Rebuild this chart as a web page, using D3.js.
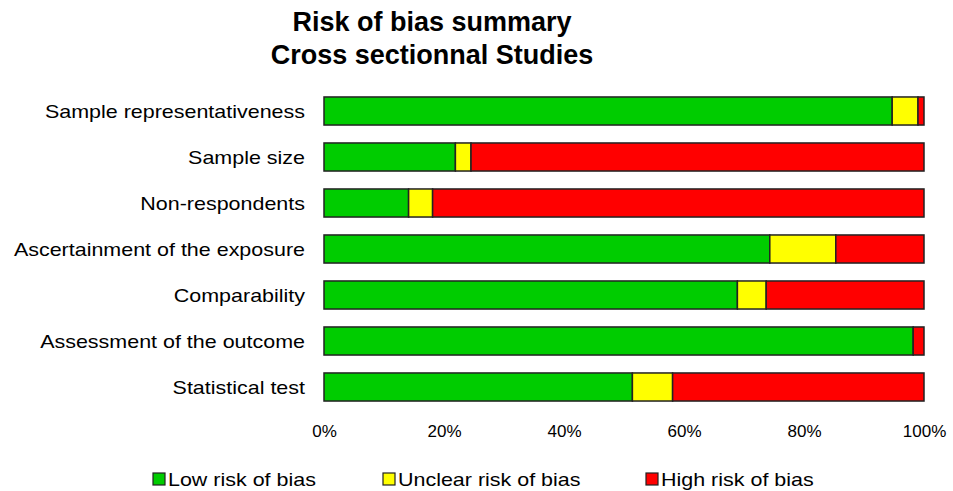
<!DOCTYPE html>
<html>
<head>
<meta charset="utf-8">
<script src="https://cdn.jsdelivr.net/npm/d3@7"></script>
<style>
  body { margin: 0; background: #fff; }
  text { font-family: "Liberation Sans", Arial, sans-serif; fill: #000; }
</style>
</head>
<body>
<div id="chart"></div>
<script>
// values (percent of studies)
const domains = [
  "Sample representativeness",
  "Sample size",
  "Non-respondents",
  "Ascertainment of the exposure",
  "Comparability",
  "Assessment of the outcome",
  "Statistical test"
];
const lowRisk     = [94.7, 21.9, 14.1, 74.3, 68.9, 98.2, 51.4];
const unclearRisk = [4.3, 2.6, 4.0, 11.0, 4.8, 0, 6.7];
const highRisk    = [1.0, 75.5, 81.9, 14.7, 26.3, 1.8, 41.9];
const tickValues  = [0, 20, 40, 60, 80, 100];
const seriesNames = ["Low risk of bias", "Unclear risk of bias", "High risk of bias"];
const seriesColors = ["#00cc00", "#ffff00", "#ff0000"];

const width = 953, height = 491;
const plotLeft = 324, plotRight = 924, plotTop = 88, plotBottom = 410;
const stretch = 1.13; // the original labels are a bit wider than Arial

const svg = d3.select('#chart').append('svg')
  .attr('width', width)
  .attr('height', height);

svg.append('text')
  .attr('x', 432).attr('y', 31)
  .attr('text-anchor', 'middle')
  .style('font-size', '27px').style('font-weight', 'bold')
  .text('Risk of bias summary');
svg.append('text')
  .attr('x', 432).attr('y', 64)
  .attr('text-anchor', 'middle')
  .style('font-size', '27px').style('font-weight', 'bold')
  .text('Cross sectionnal Studies');

const rows = domains.map((d, i) => ({
  domain: d,
  [seriesNames[0]]: lowRisk[i],
  [seriesNames[1]]: unclearRisk[i],
  [seriesNames[2]]: highRisk[i]
}));

const stack = d3.stack().keys(seriesNames);
const stacked = stack(rows);

const x = d3.scaleLinear().domain([0, 100]).range([plotLeft, plotRight]);
const y = d3.scaleBand().domain(domains).range([plotTop, plotBottom]).paddingInner(0.39).paddingOuter(0.195);

const color = d3.scaleOrdinal().domain(seriesNames).range(seriesColors);

svg.append('g').selectAll('g')
  .data(stacked)
  .enter()
  .append('g')
  .attr('fill', d => color(d.key))
  .selectAll('rect')
  .data(d => d.filter(s => s[1] - s[0] > 0))
  .enter()
  .append('rect')
  .attr('x', d => x(d[0]))
  .attr('y', d => y(d.data.domain))
  .attr('width', d => x(d[1]) - x(d[0]))
  .attr('height', y.bandwidth())
  .attr('stroke', '#222')
  .attr('stroke-width', 1.5);

// category labels
svg.append('g').selectAll('text')
  .data(domains)
  .enter()
  .append('text')
  .attr('transform', d => `translate(305, ${y(d) + y.bandwidth() / 2}) scale(${stretch}, 1)`)
  .attr('dy', '0.35em')
  .attr('text-anchor', 'end')
  .style('font-size', '19px')
  .text(d => d);

// x axis labels (no axis line in the original)
const xAxis = d3.axisBottom(x)
  .tickValues(tickValues)
  .tickSize(0)
  .tickPadding(0)
  .tickFormat(d => d + '%');

const axisG = svg.append('g')
  .attr('transform', `translate(0, 425)`)
  .call(xAxis);
axisG.select('.domain').remove();
axisG.selectAll('text')
  .style('font-size', '17px')
  .style('font-family', '"Liberation Sans", Arial, sans-serif');

// legend
const legendX = [153, 383, 646];
const legend = svg.append('g').selectAll('g')
  .data(seriesNames)
  .enter()
  .append('g')
  .attr('transform', (d, i) => `translate(${legendX[i]}, 473)`);

legend.append('rect')
  .attr('width', 12).attr('height', 12)
  .attr('fill', d => color(d))
  .attr('stroke', '#222').attr('stroke-width', 1.2);

legend.append('text')
  .attr('transform', `translate(15, 6) scale(${stretch}, 1)`)
  .attr('dy', '0.35em')
  .style('font-size', '19px')
  .text(d => d);
</script>
</body>
</html>
